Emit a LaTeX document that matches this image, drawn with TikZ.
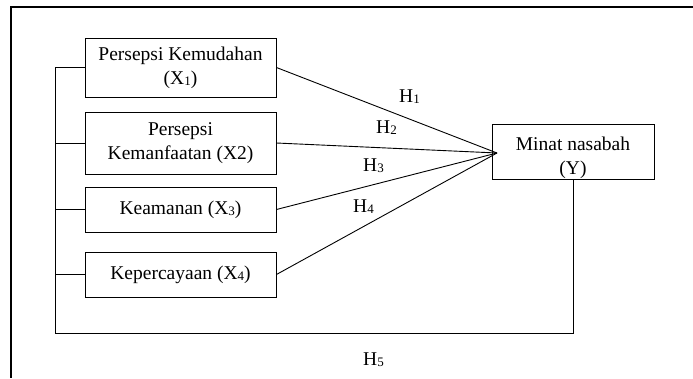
\documentclass[tikz,border=0pt]{standalone}
\usepackage{fontspec}
\setmainfont{Liberation Serif}
\newcommand\sbs[1]{\raisebox{-1.5pt}{\fontsize{13}{13}\selectfont #1}}
\begin{document}
\begin{tikzpicture}[x=1pt,y=-1pt,
  txt/.style={font=\fontsize{19.5}{24}\selectfont},
  box/.style={draw, line width=0.9pt, minimum width=191pt, inner sep=0pt, align=center, txt},
  conn/.style={line width=0.9pt},
  frame/.style={line width=2pt},
  lab/.style={anchor=base west, inner sep=0pt, txt}]
\useasboundingbox (0,0) rectangle (693,378);
% frame
\draw[frame] (693,7) -- (11,7) -- (11,378);
% boxes
\node[box, minimum height=59pt] (b1) at (180.5,67.5) {Persepsi Kemudahan\\(X\sbs{1})};
\node[box, minimum height=62pt] (b2) at (180.5,143) {Persepsi\\Kemanfaatan (X2)};
\node[box, minimum height=45pt] (b3) at (180.5,209.5) {Keamanan (X\sbs{3})};
\node[box, minimum height=45pt] (b4) at (180.5,274.5) {Kepercayaan (X\sbs{4})};
\node[draw, line width=0.9pt, minimum width=162pt, minimum height=55pt, inner sep=0pt] (Y) at (573,151.5) {};
\begin{scope}
\clip (Y.south west) rectangle (Y.north east);
\node[txt, align=center, inner sep=0pt, anchor=base] (ytxt) at (573,174) {Minat nasabah\\(Y)};
\end{scope}
% converging lines
\coordinate (conv) at (497,153);
\foreach \b in {b1,b2,b3,b4} \draw[conn] (\b.east) -- (conv);
% bracket
\coordinate (L) at (55,333);
\draw[conn] (b1.west) -| (L) -| (Y.south);
\foreach \b in {b2,b3,b4} \draw[conn] (\b.west) -- (\b.west -| L);
% labels
\node[lab] (h1) at (399,102) {H\sbs{1}};
\node[lab] (h2) at (376,133) {H\sbs{2}};
\node[lab] (h3) at (363,171) {H\sbs{3}};
\node[lab] (h4) at (353,212) {H\sbs{4}};
\node[lab] (h5) at (363,365) {H\sbs{5}};
\end{tikzpicture}
\end{document}
